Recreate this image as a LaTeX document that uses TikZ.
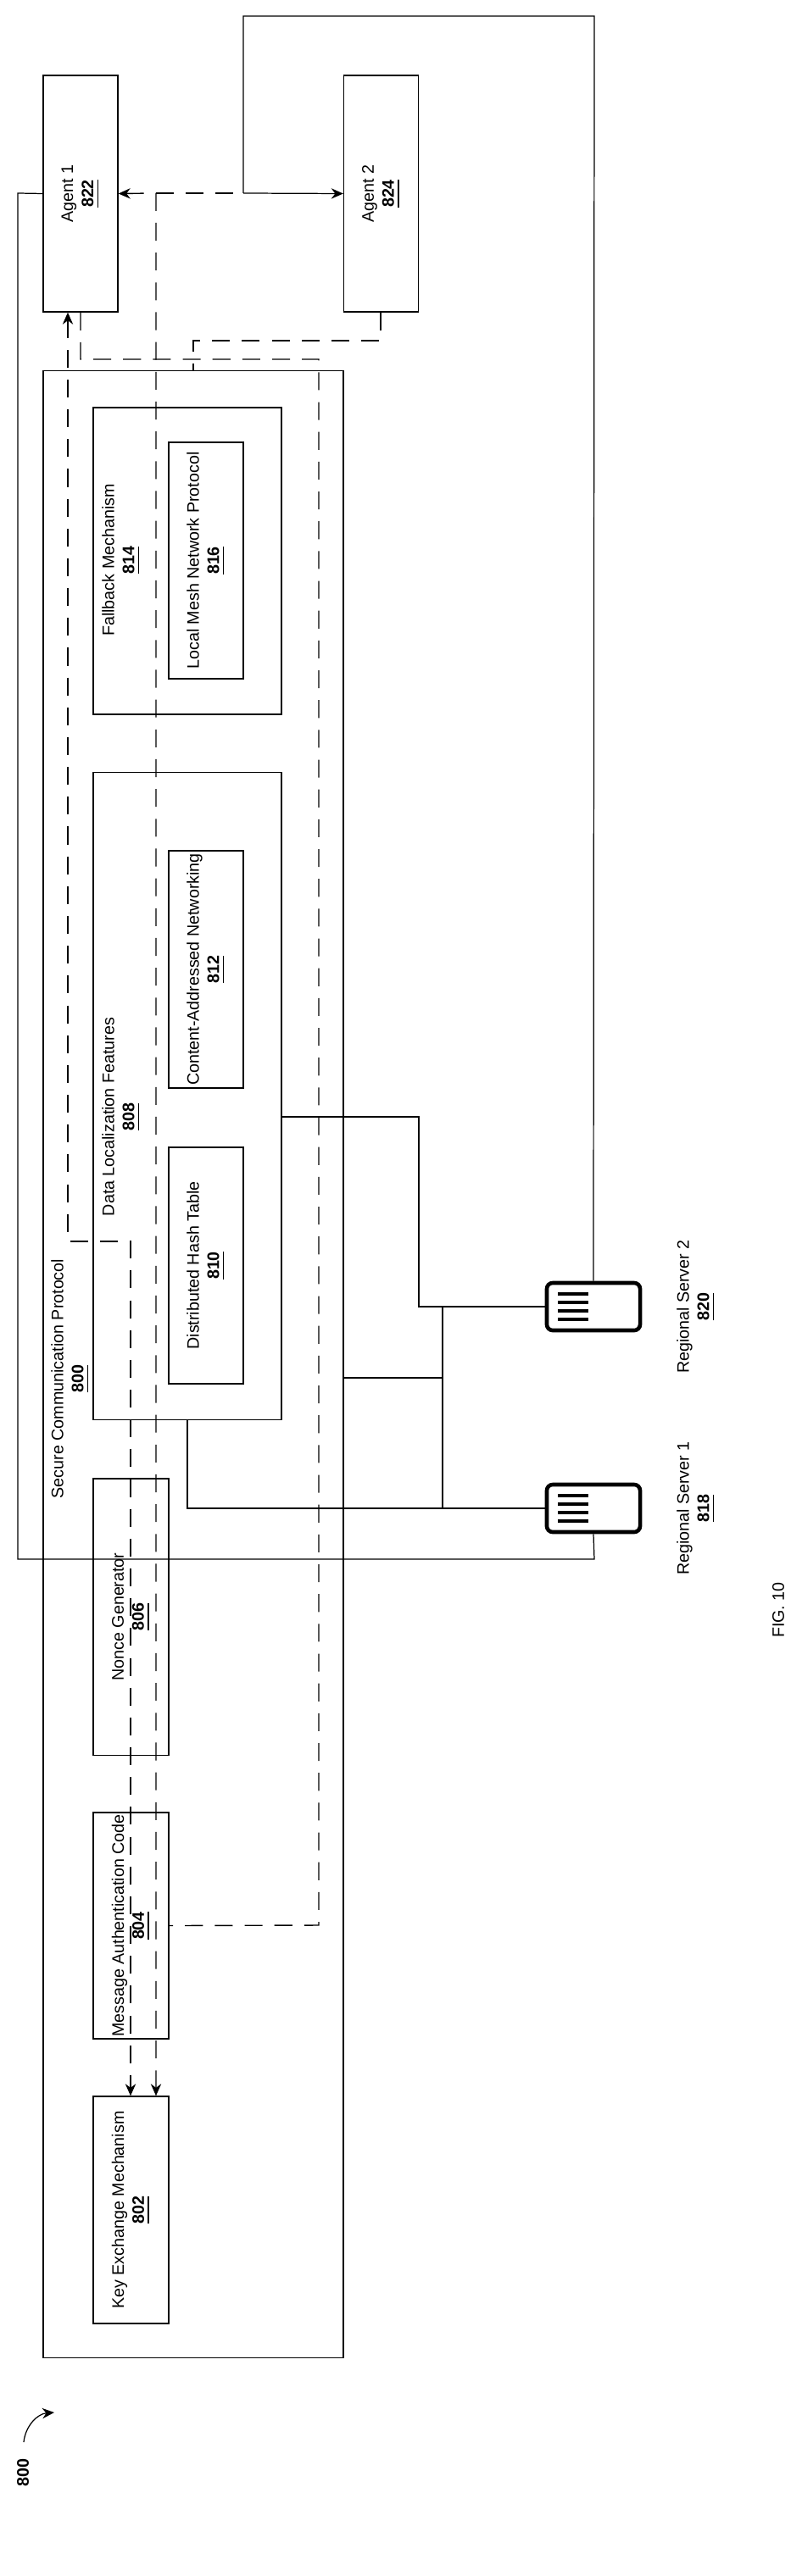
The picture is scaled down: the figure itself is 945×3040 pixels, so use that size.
\documentclass[tikz,border=0pt]{standalone}
\usepackage{fontspec}
\setmainfont{Liberation Sans}
\usetikzlibrary{arrows.meta}
\newcommand\refnum[1]{\underline{\textbf{#1}}}

\begin{document}
\begin{tikzpicture}[x=0.01cm, y=-0.01cm,
  every node/.style={font=\fontsize{5.6}{6.8}\selectfont, align=center, inner sep=0pt},
  box/.style={draw, rotate=90, line width=0.35pt},
  lbl/.style={rotate=90},
  dsh/.style={dashed, dash pattern=on 6pt off 4pt, line width=0.4pt},
  ln/.style={line width=0.35pt},
  >={Stealth[length=4pt, width=3.5pt]}]
\useasboundingbox (0,0) rectangle (945,3040);

% agents
\node[box, minimum width=2.79cm, minimum height=0.88cm] (A1) at (95,228.5) {Agent 1\\\refnum{822}};
\node[box, minimum width=2.79cm, minimum height=0.88cm] (A2) at (449.5,228.5) {Agent 2\\\refnum{824}};

% protocol
\node[box, minimum width=23.44cm, minimum height=3.54cm] (SCP) at (228,1610) {};
\node[lbl] (SCPl) at (83,1627) {Secure Communication Protocol\\\refnum{800}};

\node[box, minimum width=3.62cm, minimum height=2.22cm] (FM) at (221,662) {};
\node[lbl] (FMl) at (143,661) {Fallback Mechanism\\\refnum{814}};
\node[box, minimum width=2.79cm, minimum height=0.88cm] (LM) at (243,661.5) {Local Mesh Network Protocol\\\refnum{816}};

\node[box, minimum width=7.63cm, minimum height=2.22cm] (DL) at (221,1293.5) {};
\node[lbl] (DLl) at (143,1318) {Data Localization Features\\\refnum{808}};
\node[box, minimum width=2.8cm, minimum height=0.88cm] (CA) at (243,1144) {Content-Addressed Networking\\\refnum{812}};
\node[box, minimum width=2.79cm, minimum height=0.88cm] (DH) at (243,1493.5) {Distributed Hash Table\\\refnum{810}};

\node[box, minimum width=3.26cm, minimum height=0.89cm] (NG) at (154.5,1908) {Nonce Generator\\\refnum{806}};
\node[box, minimum width=2.67cm, minimum height=0.89cm] (MA) at (154.5,2272.5) {Message Authentication Code\\\refnum{804}};
\node[box, minimum width=2.68cm, minimum height=0.89cm] (KE) at (154.5,2608) {Key Exchange Mechanism\\\refnum{802}};

% servers
\foreach \s/\y/\n/\t in {S1/1780/818/1, S2/1542/820/2}{
  \node[draw, line width=1.3pt, rounded corners=2pt, minimum width=1.1cm, minimum height=0.56cm] (\s) at (700,\y) {};
  \foreach \k in {-15,-5,5,15}
    \draw[line width=1.4pt] (658,\y+\k) -- (694,\y+\k);
  \node[lbl] (\s l) at (821,\y) {Regional Server \t\\\refnum{\n}};
}

% connectors
\coordinate (J) at (287,228);
\draw[dsh, <->] (A1.south) -- (184,228) -- (184,228 |- KE.east);
\draw[dsh] (184,228) -- (J);
\draw[ln, ->] (J) -- (A2.north);
\draw[ln] (S2.north) -- (701,19) -- (287,19) -- (J);
\draw[ln] (S1.south) -- (701,1840) -- (21,1840) -- (21,228) -- (A1.north);
\draw[dsh, <->] (80,0 |- A1.west) -- (80,1465) -- (154,1465) -- (154,0 |- KE.east);
\draw[dsh] (95,0 |- A1.west) -- (95,424) -- (376,424) -- (376,2272) -- (MA.south);
\draw[dsh] (449,0 |- A2.west) -- (449,402) -- (228,402) -- (228,0 |- SCP.east);
\draw[ln] (DL.south |- 0,1318) -- (494,1318) -- (494,1542) -- (S2.west);
\draw[ln] (221,0 |- DL.west) -- (221,1780) -- (S1.west);
\draw[ln] (SCP.south |- 0,1626) -- (522,1626);
\draw[ln] (522,1542) -- (522,1780);

% figure labels
\node[lbl, font=\fontsize{5.6}{6.8}\selectfont\bfseries] (ref) at (27,2918) {800};
\draw[ln, ->] (28,2882) to[bend left=40] (64,2847);
\node[lbl] (fig) at (918,1900) {FIG. 10};
\end{tikzpicture}
\end{document}
